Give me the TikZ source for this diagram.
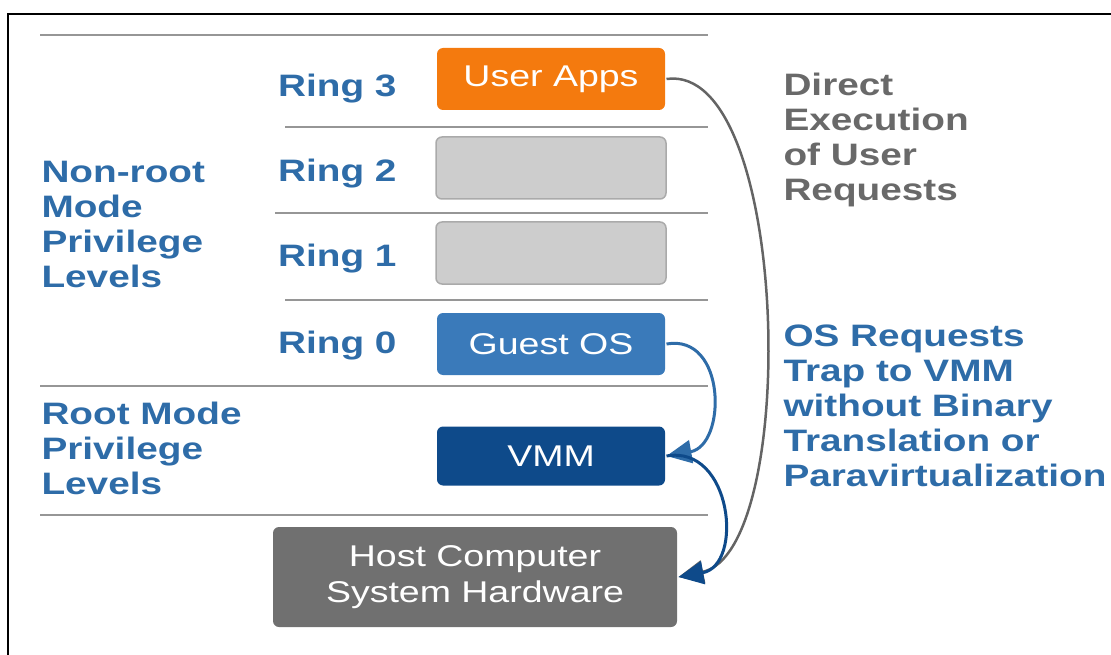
\documentclass[tikz,border=0pt]{standalone}
\usepackage{fontspec}
\setmainfont{Liberation Sans}[FakeStretch=1.25]
\usetikzlibrary{arrows.meta,positioning}
\definecolor{ringblue}{RGB}{46,108,168}
\definecolor{notegray}{RGB}{105,105,105}
\definecolor{appsorange}{RGB}{244,122,14}
\definecolor{emptygray}{RGB}{205,205,205}
\definecolor{emptyedge}{RGB}{170,170,170}
\definecolor{guestblue}{RGB}{58,122,186}
\definecolor{vmmblue}{RGB}{14,74,138}
\definecolor{hostgray}{RGB}{112,112,112}
\definecolor{lineray}{RGB}{150,150,150}
\definecolor{directgray}{RGB}{100,100,100}
\newcommand{\newLevel}[4]{\node[level,#3](#1) at #4 {#2};}
\newcommand{\newTrap}[3]{\draw[trap,#3] (#1) to (#2);}

\begin{document}
\begin{tikzpicture}[
    % one unit is one pixel of the picture
    x=1pt,y=-1pt,
    % Default arrow tip
    trap/.style={-{Triangle[length=25pt,width=23pt]}},
    % Boxes of the privilege levels
    level/.style={rounded corners=6pt,minimum width=228pt,minimum height=62pt,
      inner sep=0pt,text=white,font=\fontsize{30}{36}\selectfont},
    ringlabel/.style={inner sep=0pt,anchor=base east,text=ringblue,
      font=\fontsize{31}{35}\selectfont\bfseries},
    sidelabel/.style={inner sep=0pt,align=left,anchor=north west,
      font=\fontsize{31}{35}\selectfont\bfseries},
    sepline/.style={draw=lineray,line width=2pt},
    % Edge stroke thickness
    line width=3pt
    ]

    \useasboundingbox (0,0) rectangle (1111,655);
    \draw[line width=2.5pt] (8,655) -- (8,14) -- (1111,14);

    \foreach \y/\a in {35/40,127/285,213/275,300/285,386/40,515/40}
      \draw[sepline] (\a,\y) -- (708,\y);

    \newLevel{apps}{User Apps}{fill=appsorange}{(551,79)}
    \newLevel{ringtwo}{}{fill=emptygray,draw=emptyedge,line width=1.5pt,minimum width=230pt}{(551,168)}
    \newLevel{ringone}{}{fill=emptygray,draw=emptyedge,line width=1.5pt,minimum width=230pt}{(551,253)}
    \newLevel{guest}{Guest OS}{fill=guestblue}{(551,344)}
    \newLevel{vmm}{VMM}{fill=vmmblue,minimum height=59pt}{(551,456)}
    \newLevel{host}{Host Computer\\System Hardware}{fill=hostgray,align=center,
      minimum width=404pt,minimum height=100pt}{(475,577)}

    \node[ringlabel] (rthree) at (398,97) {Ring 3};
    \node[ringlabel] (rtwo) at (398,182) {Ring 2};
    \node[ringlabel] (rone) at (398,266) {Ring 1};
    \node[ringlabel] (rzero) at (398,353) {Ring 0};

    \node[sidelabel,text=ringblue] (nonroot) at (40,160) {Non-root\\Mode\\Privilege\\Levels};
    \node[sidelabel,text=ringblue] (root) at (40,401) {Root Mode\\Privilege\\Levels};
    \node[sidelabel,text=notegray] (direct) at (782,72) {Direct\\Execution\\of User\\Requests};
    \node[sidelabel,text=ringblue] (trap) at (782,323) {OS Requests\\Trap to VMM\\without Binary\\Translation or\\Paravirtualization};

    \newTrap{apps.east}{host.east}{directgray,line width=2.5pt,out=8,in=12,looseness=0.64}
    \newTrap{guest.east}{vmm.east}{ringblue,out=10,in=10,looseness=1.4}
    \newTrap{vmm.east}{host.east}{vmmblue,out=10,in=10,looseness=1.4}
  \end{tikzpicture}
\end{document}
